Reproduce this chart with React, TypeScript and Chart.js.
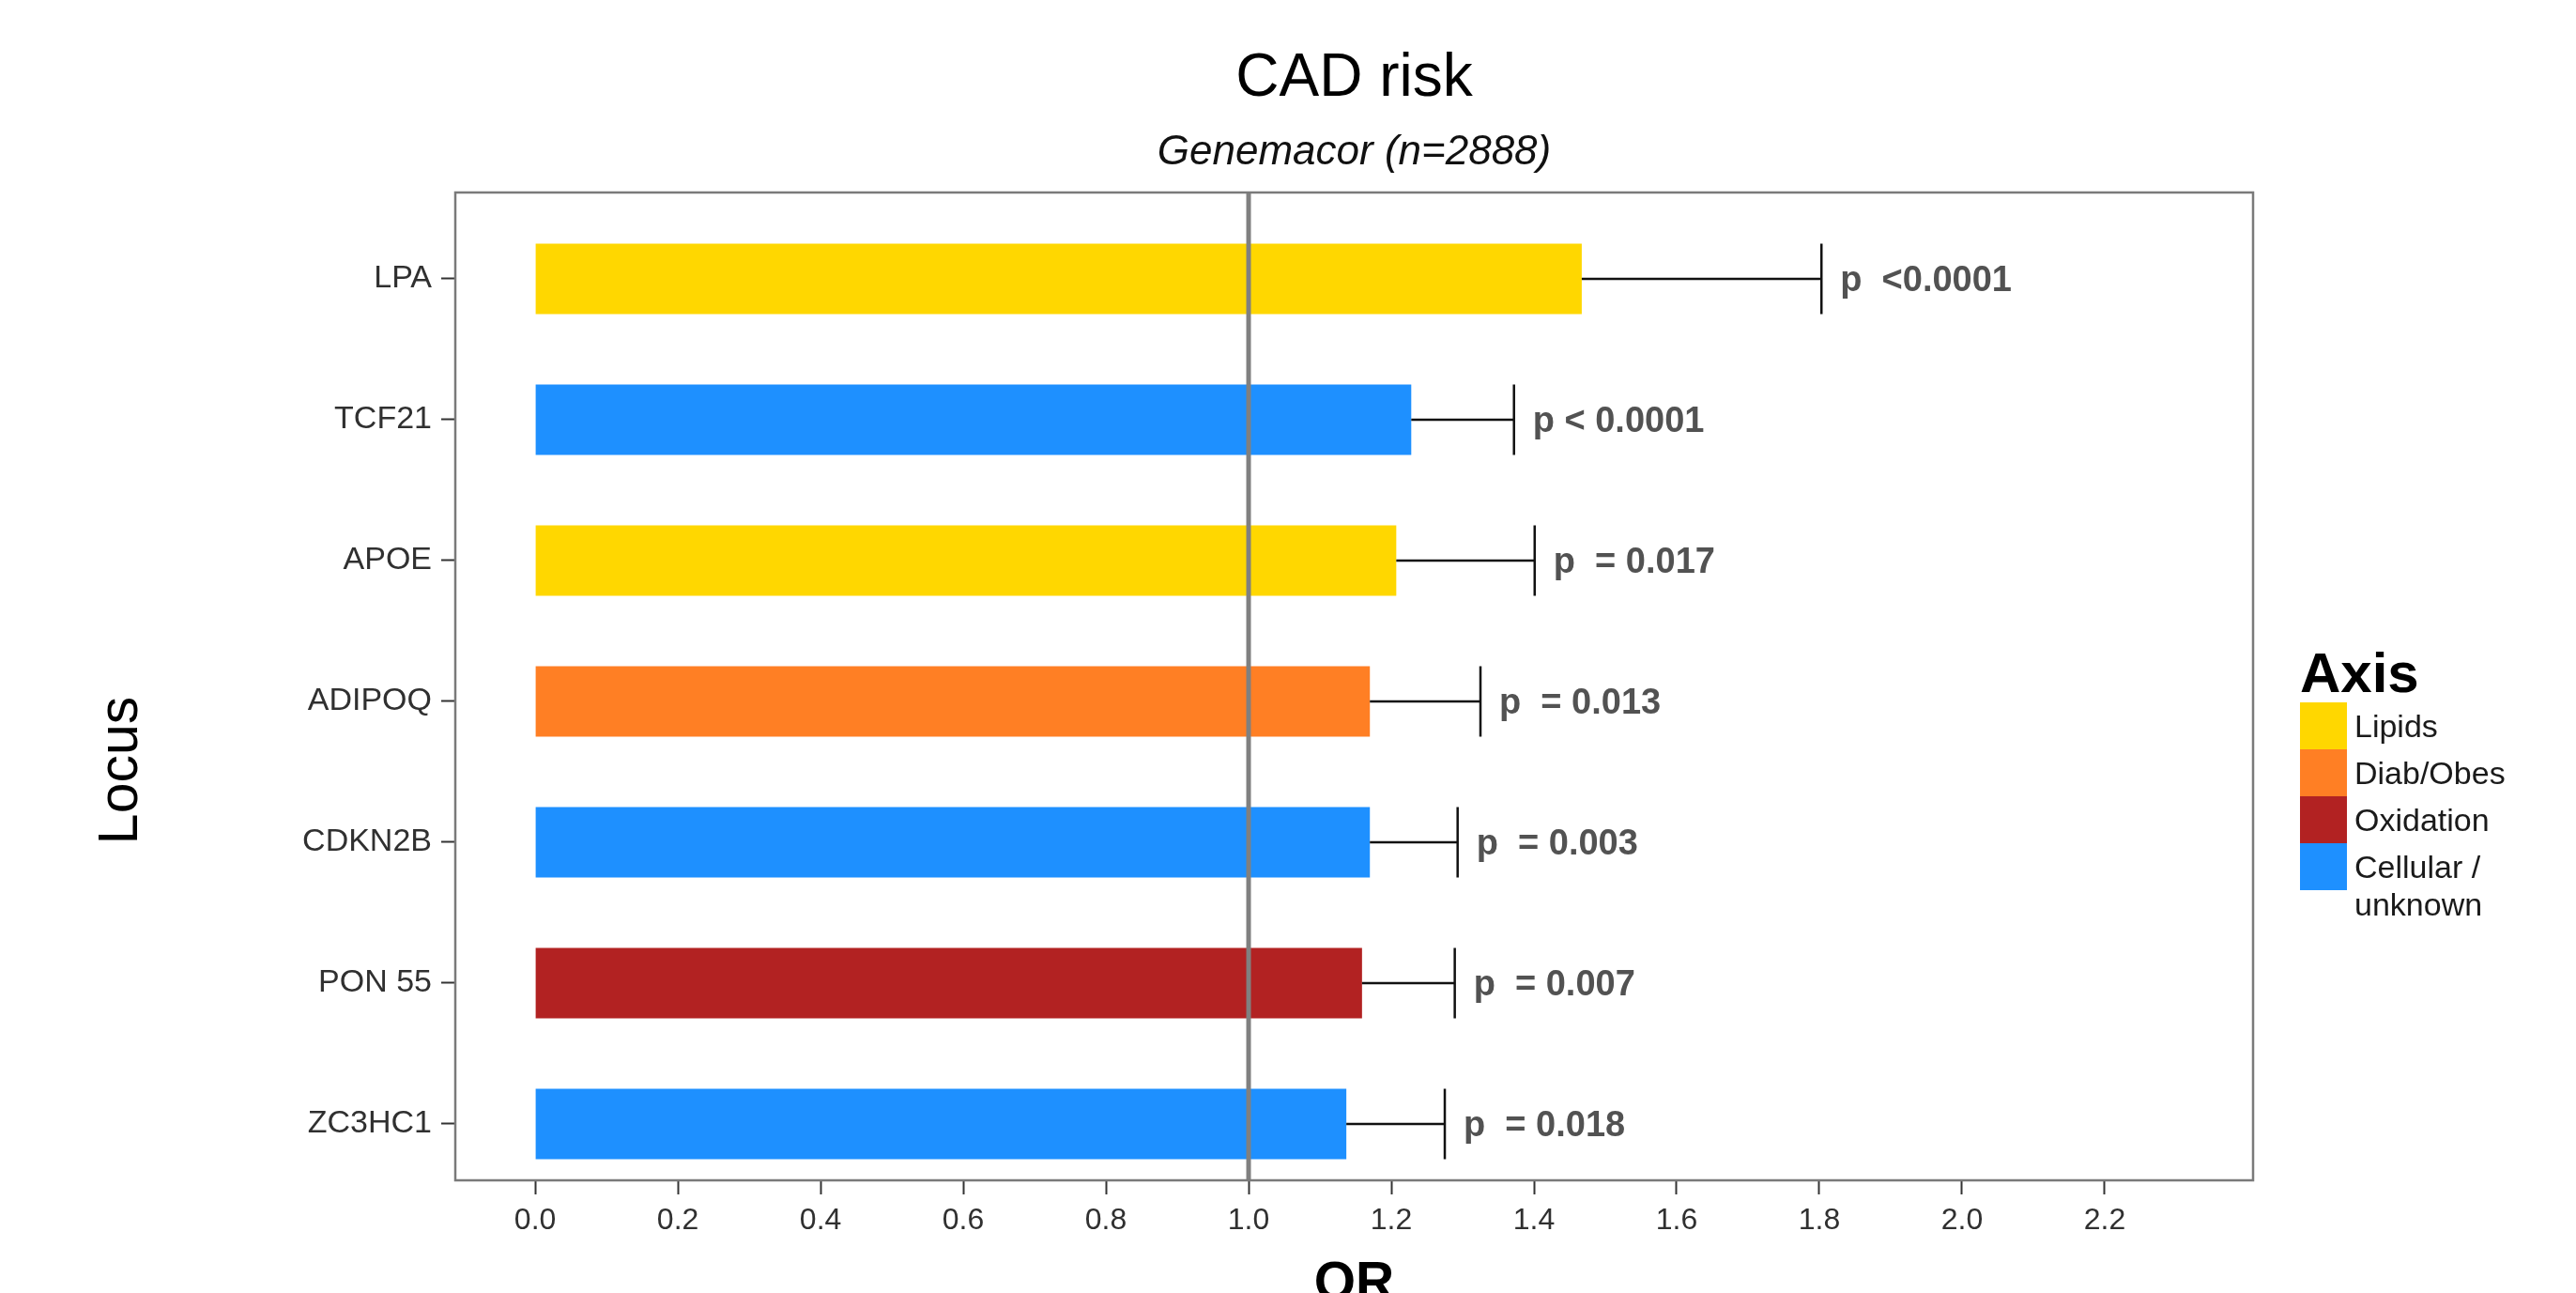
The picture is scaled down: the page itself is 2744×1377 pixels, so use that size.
import React, { useEffect, useRef } from "react";
import { Chart, registerables } from "chart.js";

Chart.register(...registerables);

const loci = ["LPA", "TCF21", "APOE", "ADIPOQ", "CDKN2B", "PON 55", "ZC3HC1"];
const orValues = [1.467, 1.228, 1.207, 1.17, 1.17, 1.159, 1.137];
const upperCI = [1.803, 1.372, 1.401, 1.325, 1.293, 1.289, 1.275];
const pLabels = ["p  <0.0001", "p < 0.0001", "p  = 0.017", "p  = 0.013", "p  = 0.003", "p  = 0.007", "p  = 0.018"];
const locusAxis = ["Lipids", "Cellular / unknown", "Lipids", "Diab/Obes", "Cellular / unknown", "Oxidation", "Cellular / unknown"];
const axisNames = ["Lipids", "Diab/Obes", "Oxidation", "Cellular / unknown"];
const axisLegendLines = [["Lipids"], ["Diab/Obes"], ["Oxidation"], ["Cellular /", "unknown"]];
const axisColors = ["#FFD700", "#FF7F24", "#B22222", "#1E90FF"];
const xTicks = [0, 0.2, 0.4, 0.6, 0.8, 1.0, 1.2, 1.4, 1.6, 1.8, 2.0, 2.2];
const yTicks = [0, 1, 2, 3, 4, 5, 6];
const refValue = 1.0;

const FONT = "'Liberation Sans', Arial, sans-serif";

const decorPlugin = {
  id: "decor",
  beforeDraw(chart: any) {
    const ctx = chart.ctx;
    ctx.save();
    ctx.fillStyle = "#ffffff";
    ctx.fillRect(0, 0, chart.width, chart.height);
    ctx.restore();
  },
  afterDatasetsDraw(chart: any) {
    const ctx = chart.ctx;
    const xs = chart.scales.x;
    const ys = chart.scales.y;
    const ca = chart.chartArea;
    const meta = chart.getDatasetMeta(0);
    ctx.save();
    for (let i = 0; i < loci.length; i++) {
      const el: any = meta.data[i];
      const yc = ys.getPixelForValue(i);
      const x0 = xs.getPixelForValue(orValues[i]);
      const x1 = xs.getPixelForValue(upperCI[i]);
      const half = (el && el.height ? el.height : 75) / 2;
      ctx.strokeStyle = "#111111";
      ctx.lineWidth = 2.5;
      ctx.beginPath();
      ctx.moveTo(x0, yc);
      ctx.lineTo(x1, yc);
      ctx.moveTo(x1, yc - half);
      ctx.lineTo(x1, yc + half);
      ctx.stroke();
      ctx.fillStyle = "#525252";
      ctx.font = `bold 38px ${FONT}`;
      ctx.textAlign = "left";
      ctx.textBaseline = "middle";
      ctx.fillText(pLabels[i], x1 + 20, yc + 3);
    }
    const xr = xs.getPixelForValue(refValue);
    ctx.strokeStyle = "#808080";
    ctx.lineWidth = 5;
    ctx.beginPath();
    ctx.moveTo(xr, ca.top);
    ctx.lineTo(xr, ca.bottom);
    ctx.stroke();
    ctx.strokeStyle = "#7a7a7a";
    ctx.lineWidth = 2.5;
    ctx.strokeRect(ca.left, ca.top, ca.right - ca.left, ca.bottom - ca.top);
    ctx.restore();
  },
  afterDraw(chart: any) {
    const ctx = chart.ctx;
    const ca = chart.chartArea;
    const cx = (ca.left + ca.right) / 2;
    ctx.save();
    ctx.fillStyle = "#000000";
    ctx.textAlign = "center";
    ctx.textBaseline = "alphabetic";
    ctx.font = `64px ${FONT}`;
    ctx.fillText("CAD risk", cx, 102);
    ctx.fillStyle = "#111111";
    ctx.font = `italic 44px ${FONT}`;
    ctx.fillText("Genemacor (n=2888)", cx, 175);
    ctx.fillStyle = "#000000";
    ctx.font = `bold 57px ${FONT}`;
    ctx.fillText("OR", cx, ca.bottom + 127);
    ctx.save();
    ctx.translate(130, ca.top + (ca.bottom - ca.top) * 0.585);
    ctx.rotate(-Math.PI / 2);
    ctx.font = `59px ${FONT}`;
    ctx.textBaseline = "middle";
    ctx.fillText("Locus", 0, 0);
    ctx.restore();
    const lx = ca.right + 50;
    ctx.textAlign = "left";
    ctx.textBaseline = "alphabetic";
    ctx.font = `bold 60px ${FONT}`;
    ctx.fillText("Axis", lx, 737);
    const sw = 50;
    const top0 = 748;
    for (let i = 0; i < axisNames.length; i++) {
      const sy = top0 + i * sw;
      ctx.fillStyle = axisColors[i];
      ctx.fillRect(lx, sy, sw, sw);
      ctx.fillStyle = "#1a1a1a";
      ctx.font = `34px ${FONT}`;
      ctx.textBaseline = "middle";
      const lines = axisLegendLines[i];
      lines.forEach((ln, k) => {
        ctx.fillText(ln, lx + sw + 8, sy + sw / 2 + 3 + k * 40);
      });
    }
    ctx.restore();
  },
};

export default function App() {
  const ref = useRef<HTMLCanvasElement | null>(null);
  useEffect(() => {
    if (!ref.current) return;
    const colors = locusAxis.map((a) => axisColors[axisNames.indexOf(a)]);
    const chart = new Chart(ref.current, {
      type: "bar",
      data: {
        datasets: [
          {
            label: "OR",
            data: orValues.map((v, i) => ({ x: v, y: i })),
            backgroundColor: colors,
            borderWidth: 0,
            categoryPercentage: 1.0,
            barPercentage: 0.5,
          } as any,
        ],
      },
      options: {
        indexAxis: "y",
        animation: false,
        responsive: false,
        devicePixelRatio: 1,
        layout: { padding: { left: 0, right: 344, top: 205, bottom: 0 } },
        plugins: { legend: { display: false }, tooltip: { enabled: false }, title: { display: false } },
        scales: {
          x: {
            type: "linear",
            min: -0.112,
            max: 2.408,
            offset: false,
            afterBuildTicks: (scale: any) => {
              scale.ticks = xTicks.map((v) => ({ value: v }));
            },
            afterFit: (scale: any) => {
              scale.height = 120;
            },
            grid: { display: true, offset: false, drawOnChartArea: false, drawTicks: true, tickLength: 15, tickColor: "#333333", tickWidth: 2 },
            border: { display: false },
            ticks: {
              autoSkip: false,
              maxRotation: 0,
              padding: 9,
              color: "#303030",
              font: { family: FONT, size: 32 },
              callback: (v: any) => Number(v).toFixed(1),
            },
          },
          y: {
            type: "linear",
            reverse: true,
            min: -0.613,
            max: 6.4,
            offset: false,
            afterBuildTicks: (scale: any) => {
              scale.ticks = yTicks.map((v) => ({ value: v }));
            },
            afterFit: (scale: any) => {
              scale.width = 485;
            },
            grid: { display: true, offset: false, drawOnChartArea: false, drawTicks: true, tickLength: 15, tickColor: "#333333", tickWidth: 2 },
            border: { display: false },
            ticks: {
              autoSkip: false,
              padding: 10,
              color: "#303030",
              font: { family: FONT, size: 34 },
              callback: (v: any) => loci[Math.round(Number(v))] ?? "",
            },
          },
        },
      } as any,
      plugins: [decorPlugin],
    });
    return () => chart.destroy();
  }, []);
  return (
    <div style={{ position: "fixed", left: 0, top: 0, width: 2744, height: 1377, overflow: "hidden", background: "#fff" }}>
      <canvas ref={ref} width={2744} height={1377} style={{ display: "block", width: 2744, height: 1377 }} />
    </div>
  );
}
